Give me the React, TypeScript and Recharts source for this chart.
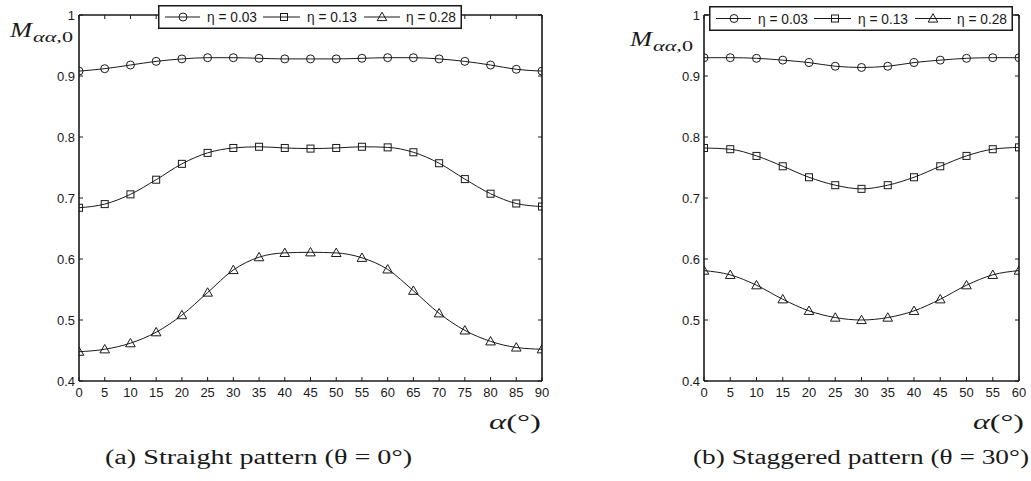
import React from 'react';
import { LineChart, Line, XAxis, YAxis, Legend } from 'recharts';

// ---------- data ----------
const anglesA = [0, 5, 10, 15, 20, 25, 30, 35, 40, 45, 50, 55, 60, 65, 70, 75, 80, 85, 90];
const straightEta003 = [0.908, 0.912, 0.918, 0.924, 0.928, 0.930, 0.930, 0.929, 0.928, 0.928, 0.928, 0.929, 0.930, 0.930, 0.928, 0.924, 0.918, 0.911, 0.908];
const straightEta013 = [0.684, 0.690, 0.706, 0.730, 0.756, 0.774, 0.782, 0.784, 0.782, 0.781, 0.782, 0.784, 0.783, 0.775, 0.757, 0.731, 0.707, 0.691, 0.686];
const straightEta028 = [0.448, 0.452, 0.462, 0.480, 0.508, 0.545, 0.582, 0.603, 0.610, 0.611, 0.610, 0.602, 0.583, 0.548, 0.511, 0.483, 0.465, 0.455, 0.452];

const anglesB = [0, 5, 10, 15, 20, 25, 30, 35, 40, 45, 50, 55, 60];
const staggeredEta003 = [0.930, 0.930, 0.929, 0.926, 0.922, 0.916, 0.914, 0.916, 0.922, 0.926, 0.929, 0.930, 0.930];
const staggeredEta013 = [0.782, 0.780, 0.769, 0.752, 0.734, 0.721, 0.715, 0.721, 0.734, 0.752, 0.769, 0.780, 0.783];
const staggeredEta028 = [0.581, 0.574, 0.557, 0.534, 0.515, 0.504, 0.500, 0.504, 0.515, 0.534, 0.557, 0.574, 0.581];

const seriesNames = ['η = 0.03', 'η = 0.13', 'η = 0.28'];
const yTicks = [0.4, 0.5, 0.6, 0.7, 0.8, 0.9, 1];
const captions = ['(a) Straight pattern (θ = 0°)', '(b) Staggered pattern (θ = 30°)'];

const tableA = anglesA.map((a, i) => ({ angle: a, s0: straightEta003[i], s1: straightEta013[i], s2: straightEta028[i] }));
const tableB = anglesB.map((a, i) => ({ angle: a, s0: staggeredEta003[i], s1: staggeredEta013[i], s2: staggeredEta028[i] }));

// ---------- styles ----------
const INK = '#1a1a1a';
const SANS = '"Liberation Sans", Arial, Helvetica, sans-serif';
const SERIF = '"Liberation Serif", "Times New Roman", serif';

// ---------- markers ----------
type MarkerKind = 'circle' | 'square' | 'triangle';
const markerKinds: MarkerKind[] = ['circle', 'square', 'triangle'];

function Marker({ kind, cx, cy }: { kind: MarkerKind; cx: number; cy: number }) {
  if (kind === 'circle') return <circle cx={cx} cy={cy} r={4} fill="none" stroke={INK} strokeWidth={1} />;
  if (kind === 'square') return <rect x={cx - 3.5} y={cy - 3.5} width={7} height={7} fill="none" stroke={INK} strokeWidth={1} />;
  return <polygon points={`${cx},${cy - 4.8} ${cx + 4.8},${cy + 3.6} ${cx - 4.8},${cy + 3.6}`} fill="none" stroke={INK} strokeWidth={1} />;
}

const makeDot = (kind: MarkerKind) => (props: any) => {
  const { cx, cy, index } = props;
  if (cx == null || cy == null) return <g key={`d-${kind}-${index}`} />;
  return (
    <g key={`d-${kind}-${index}`}>
      <Marker kind={kind} cx={cx} cy={cy} />
    </g>
  );
};

// ---------- ticks (inward, MATLAB style) ----------
const BottomTick = (props: any) => {
  const { x, y, payload } = props;
  return (
    <g>
      <line x1={x} x2={x} y1={y} y2={y - 4} stroke={INK} strokeWidth={1} />
      <text x={x} y={y + 15.5} textAnchor="middle" fontFamily={SANS} fontSize={13} fill={INK}>{String(payload.value)}</text>
    </g>
  );
};
const TopTick = (props: any) => {
  const { x, y } = props;
  return <line x1={x} x2={x} y1={y} y2={y + 4} stroke={INK} strokeWidth={1} />;
};
const LeftTick = (props: any) => {
  const { x, y, payload } = props;
  return (
    <g>
      <line x1={x} x2={x + 4} y1={y} y2={y} stroke={INK} strokeWidth={1} />
      <text x={x - 4} y={y + 4.5} textAnchor="end" fontFamily={SANS} fontSize={13} fill={INK}>{String(payload.value)}</text>
    </g>
  );
};
const RightTick = (props: any) => {
  const { x, y } = props;
  return <line x1={x} x2={x - 4} y1={y} y2={y} stroke={INK} strokeWidth={1} />;
};

// ---------- legend ----------
function LegendBox({ height }: { height: number }) {
  const items = [
    { x0: 7, x1: 42, m: 25, t: 49 },
    { x0: 105, x1: 142, m: 126, t: 149 },
    { x0: 206, x1: 242, m: 224, t: 248 },
  ];
  const cy = height / 2;
  return (
    <svg width={304} height={height} style={{ display: 'block' }}>
      <rect x={0.75} y={0.75} width={302.5} height={height - 1.5} fill="#fff" stroke={INK} strokeWidth={1.5} />
      {items.map((it, i) => (
        <g key={i}>
          <line x1={it.x0} x2={it.x1} y1={cy} y2={cy} stroke={INK} strokeWidth={1} />
          <Marker kind={markerKinds[i]} cx={it.m} cy={cy} />
          <text x={it.t} y={cy + 5} fontFamily={SANS} fontSize={14} fill={INK} textLength={50} lengthAdjust="spacingAndGlyphs">{seriesNames[i]}</text>
        </g>
      ))}
    </svg>
  );
}

// ---------- one panel ----------
function Panel({ data, xTicks, xMax, width, margin, legendPos }: any) {
  return (
    <LineChart width={width} height={481} data={data} margin={margin}>
      <XAxis dataKey="angle" type="number" domain={[0, xMax]} ticks={xTicks} interval={0}
        height={30} tickSize={0} tickMargin={0} tick={<BottomTick />} tickLine={false}
        axisLine={{ stroke: INK, strokeWidth: 1.6 }} allowDataOverflow />
      <XAxis xAxisId="top" orientation="top" dataKey="angle" type="number" domain={[0, xMax]} ticks={xTicks} interval={0}
        height={2} tickSize={0} tickMargin={0} tick={<TopTick />} tickLine={false}
        axisLine={{ stroke: INK, strokeWidth: 1.3 }} allowDataOverflow />
      <YAxis type="number" domain={[0.4, 1]} ticks={yTicks} interval={0} width={40}
        tickSize={0} tickMargin={0} tick={<LeftTick />} tickLine={false}
        axisLine={{ stroke: INK, strokeWidth: 1.6 }} allowDataOverflow />
      <YAxis yAxisId="right" orientation="right" type="number" domain={[0.4, 1]} ticks={yTicks} interval={0} width={2}
        tickSize={0} tickMargin={0} tick={<RightTick />} tickLine={false}
        axisLine={{ stroke: INK, strokeWidth: 1.6 }} allowDataOverflow />
      {['s0', 's1', 's2'].map((k, i) => (
        <Line key={k} dataKey={k} name={seriesNames[i]} type="monotone" stroke={INK} strokeWidth={1}
          dot={makeDot(markerKinds[i])} activeDot={false} isAnimationActive={false} />
      ))}
      <Legend layout="horizontal" verticalAlign="middle" align="center"
        wrapperStyle={{ left: legendPos.left, top: legendPos.top, width: 304, height: legendPos.h }}
        content={() => <LegendBox height={legendPos.h} />} />
    </LineChart>
  );
}

export default function App() {
  return (
    <div style={{ position: 'absolute', left: 0, top: 0, width: 1031, height: 481, background: '#fff' }}>
      <div style={{ position: 'absolute', left: 0, top: 0 }}>
        <Panel data={tableA} xTicks={anglesA} xMax={90} width={560}
          margin={{ top: 13, left: 39, right: 16, bottom: 70 }}
          legendPos={{ left: 158, top: 5, h: 24 }} />
      </div>
      <div style={{ position: 'absolute', left: 560, top: 0 }}>
        <Panel data={tableB} xTicks={anglesB} xMax={60} width={471}
          margin={{ top: 13, left: 104, right: 10, bottom: 70 }}
          legendPos={{ left: 149, top: 6, h: 25 }} />
      </div>
      <svg width={1031} height={481} style={{ position: 'absolute', left: 0, top: 0, pointerEvents: 'none' }}>
        {/* y-axis titles */}
        <text x={10} y={37} fontFamily={SERIF} fontStyle="italic" fontSize={22} fill={INK} textLength={22} lengthAdjust="spacingAndGlyphs">M</text>
        <text x={33} y={42} fontFamily={SERIF} fontSize={15} fill={INK} textLength={40} lengthAdjust="spacingAndGlyphs">
          <tspan fontStyle="italic">αα</tspan><tspan>,0</tspan>
        </text>
        <text x={630} y={46} fontFamily={SERIF} fontStyle="italic" fontSize={22} fill={INK} textLength={22} lengthAdjust="spacingAndGlyphs">M</text>
        <text x={653} y={51} fontFamily={SERIF} fontSize={15} fill={INK} textLength={40} lengthAdjust="spacingAndGlyphs">
          <tspan fontStyle="italic">αα</tspan><tspan>,0</tspan>
        </text>
        {/* x-axis titles */}
        <text x={489} y={429} fontFamily={SERIF} fontSize={21} fill={INK} textLength={52} lengthAdjust="spacingAndGlyphs">
          <tspan fontStyle="italic">α</tspan><tspan>(°)</tspan>
        </text>
        <text x={973} y={429} fontFamily={SERIF} fontSize={21} fill={INK} textLength={51} lengthAdjust="spacingAndGlyphs">
          <tspan fontStyle="italic">α</tspan><tspan>(°)</tspan>
        </text>
        {/* captions */}
        <text x={105} y={464} fontFamily={SERIF} fontSize={20} fill={INK} textLength={307} lengthAdjust="spacingAndGlyphs">{captions[0]}</text>
        <text x={693} y={464} fontFamily={SERIF} fontSize={20} fill={INK} textLength={336} lengthAdjust="spacingAndGlyphs">{captions[1]}</text>
      </svg>
    </div>
  );
}
